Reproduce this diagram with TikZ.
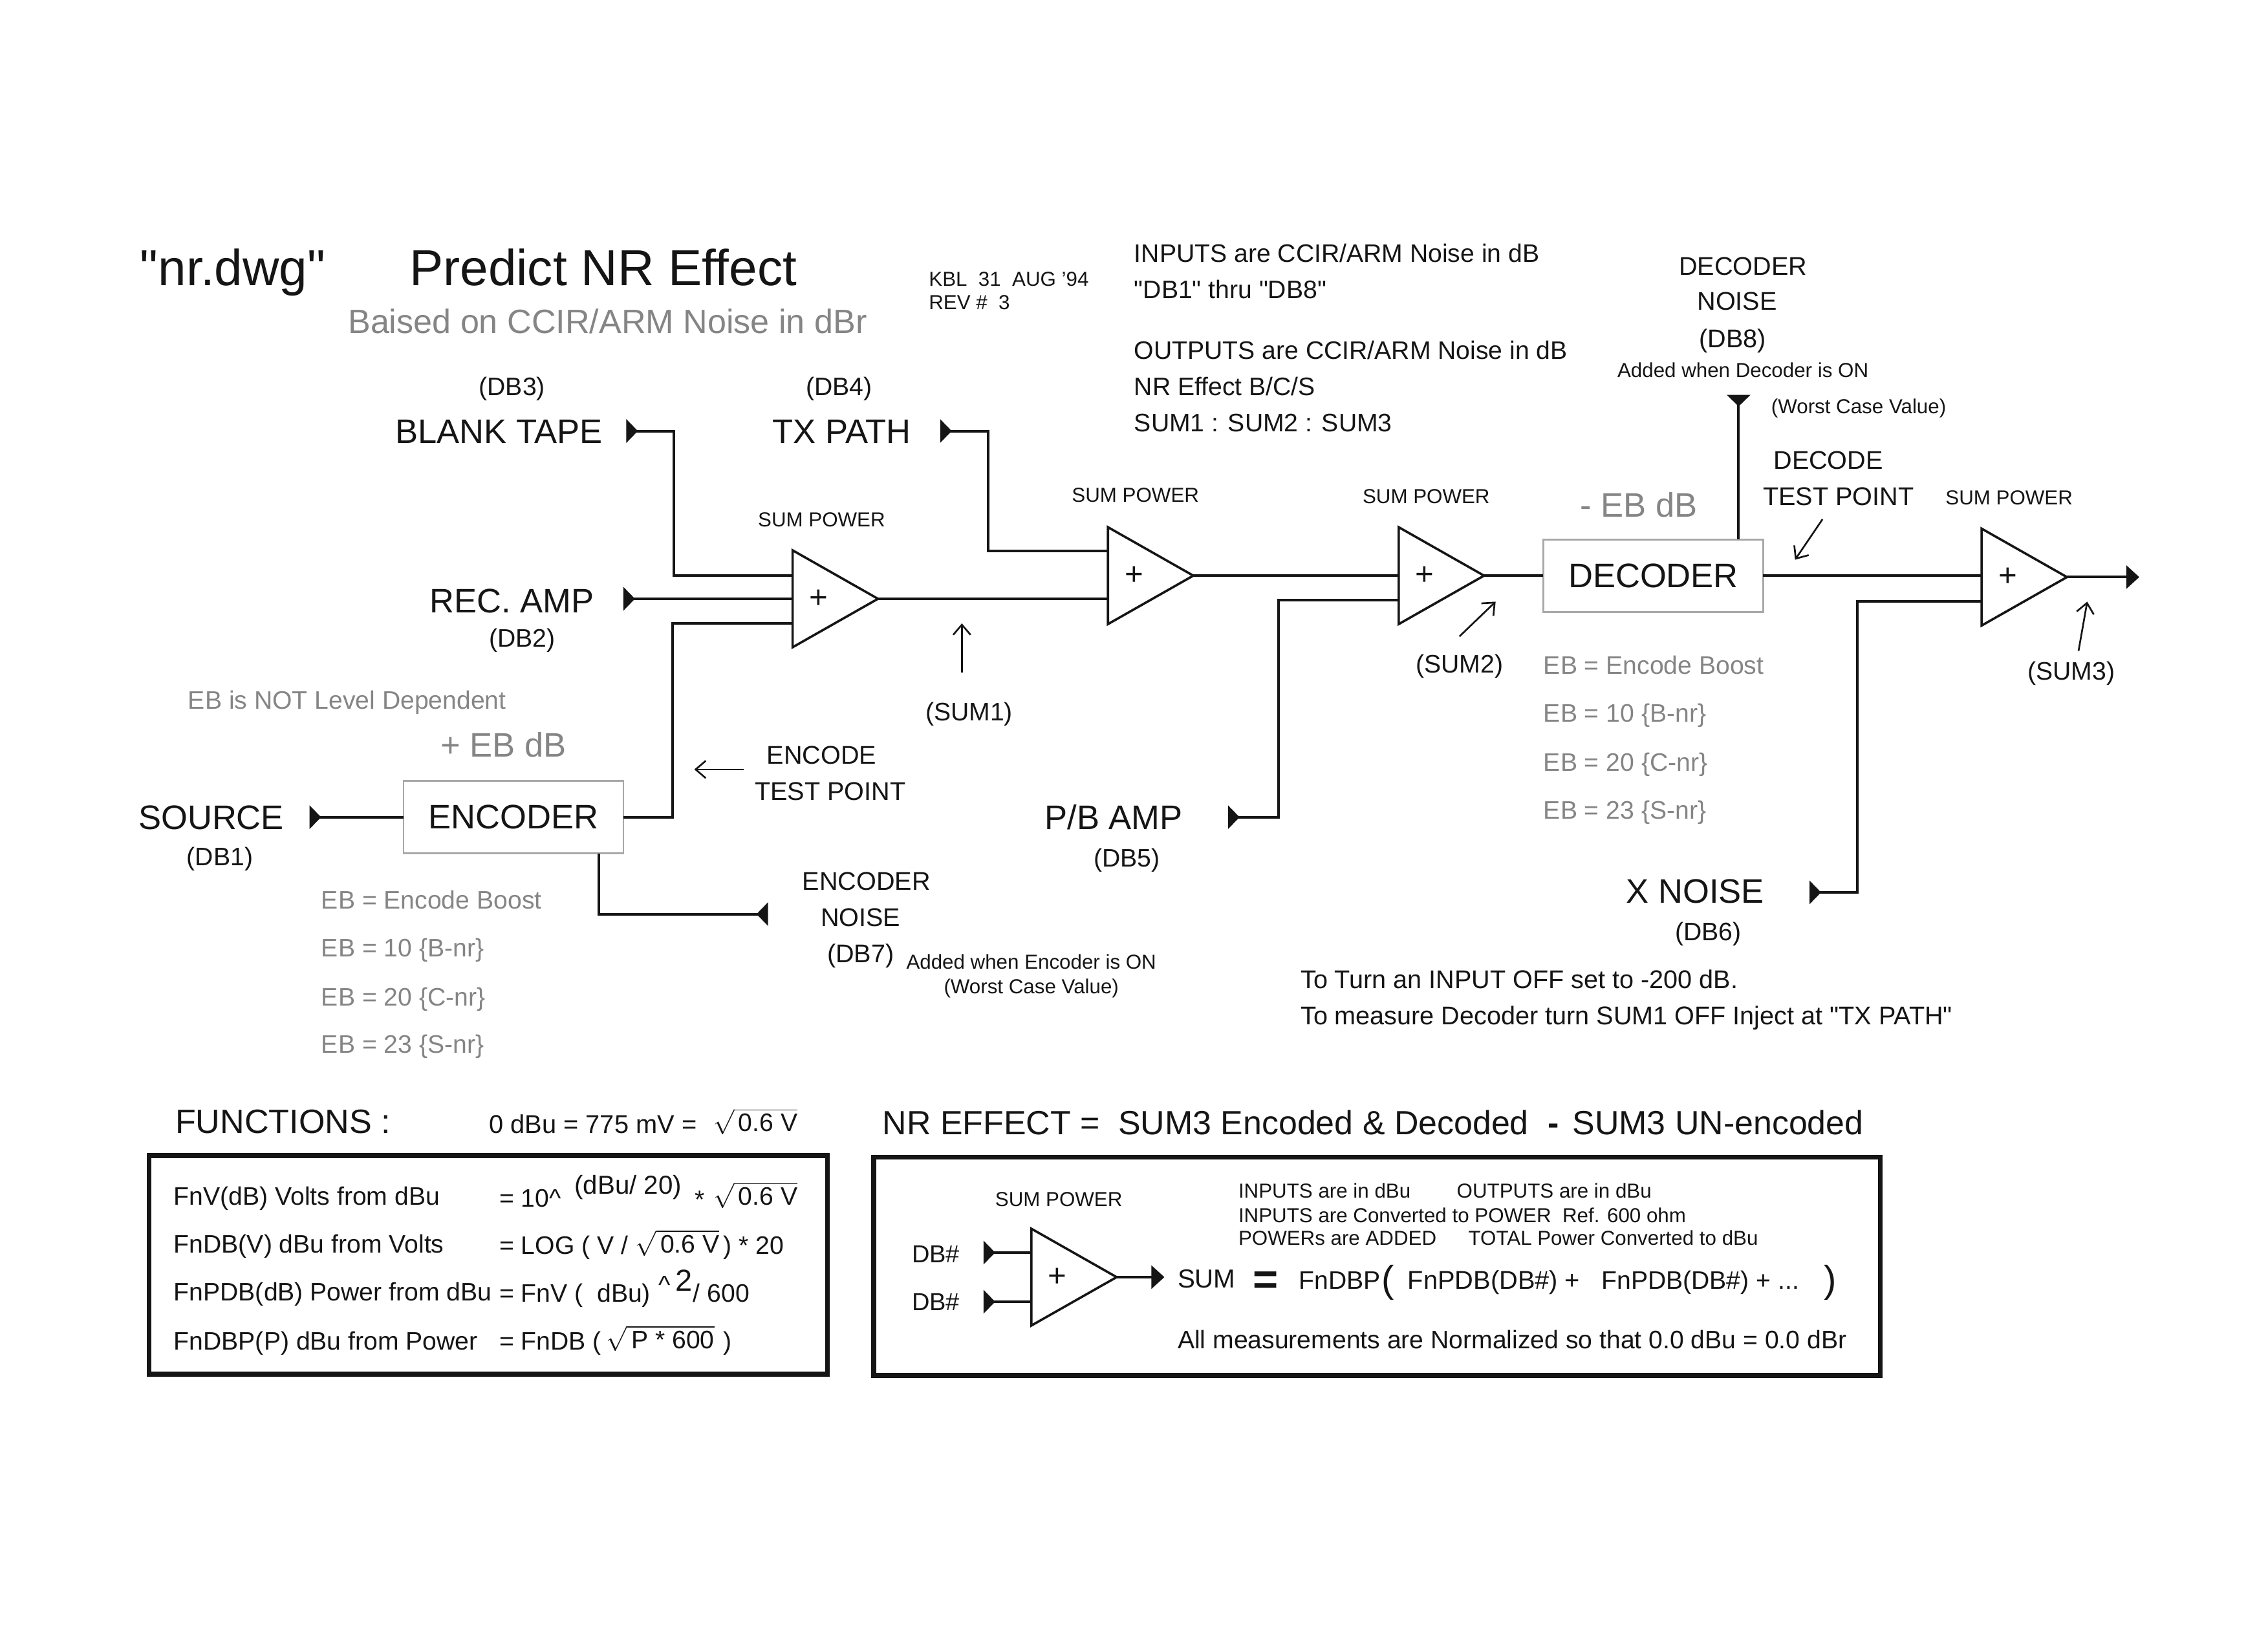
\documentclass[tikz,border=0pt]{standalone}
\usepackage{fontspec}
\setmainfont{Liberation Sans}
\usetikzlibrary{arrows.meta,shapes.geometric}
\definecolor{Ink}{HTML}{151515}
\definecolor{Faded}{HTML}{858585}
\definecolor{Frame}{HTML}{A8A8A8}
\newcommand{\rootof}[1]{$\sqrt{\mbox{\,#1}}$}
\tikzset{
lbl/.style={inner sep=0,text=Ink,font=\fontsize{#1}{#1}\selectfont,text height=.72*#1pt,text depth=0pt},
faded/.style={lbl=#1,text=Faded},
lft/.style={anchor=west},
blockbox/.style={draw=Frame,line width=1.3pt,fill=white,minimum width=152pt,minimum height=50pt,inner sep=0,outer sep=0,text=Ink,font=\fontsize{23.5}{24}\selectfont},
sumamp/.style={isosceles triangle,isosceles triangle stretches,draw=Ink,line width=1.6pt,minimum width=67pt,minimum height=59pt,inner sep=0,outer sep=0,anchor=apex,fill=white,text=Ink,font=\fontsize{22}{22}\selectfont},
wire/.style={draw=Ink,line width=1.8pt},
feed/.style={wire,{Triangle[reversed,length=8pt,width=16pt]}-},
outwire/.style={wire,-{Triangle[length=9pt,width=16pt]}},
pointer/.style={draw=Ink,line width=1.2pt,-{Straight Barb[length=7pt,width=12pt]}},
heavybox/.style={draw=Ink,line width=3.4pt}}
\begin{document}
\begin{tikzpicture}[x=1pt,y=-1pt]
\useasboundingbox[fill=white] (0,0) rectangle (1568,1140);
\node[lbl=35] (file) at (161,185) {\textquotedbl nr.dwg\textquotedbl};
\node[lbl=35] (title) at (417,185) {Predict NR Effect};
\node[faded=23.3] (subtitle) at (420,222) {Baised on CCIR/ARM Noise in dBr};
\node[lbl=14,lft] (kbl) at (642,193) {KBL\ \ 31\ \ AUG '94};
\node[lbl=14,lft] (rev) at (642,209) {REV \#\ \ 3};
\node[lbl=17.5,lft] (ina) at (784,175) {INPUTS are CCIR/ARM Noise in dB};
\node[lbl=17.5,lft] (inb) at (784,200) {\textquotedbl DB1\textquotedbl{} thru \textquotedbl DB8\textquotedbl};
\node[lbl=17.5,lft] (outa) at (784,242) {OUTPUTS are CCIR/ARM Noise in dB};
\node[lbl=17.5,lft] (outb) at (784,267) {NR Effect B/C/S};
\node[lbl=17.5,lft] (outc) at (784,292) {SUM1 : SUM2 : SUM3};
\node[lbl=17.5] (dbthree) at (354,267) {(DB3)};
\node[lbl=23.5] (blank) at (345,298) {BLANK TAPE};
\node[lbl=17.5] (dbfour) at (580,267) {(DB4)};
\node[lbl=23.5] (txpath) at (582,298) {TX PATH};
\node[lbl=23.5] (recamp) at (354,415) {REC. AMP};
\node[lbl=17.5] (dbtwo) at (361,441) {(DB2)};
\node[faded=17.5] (leveldep) at (240,484) {EB is NOT Level Dependent};
\node[faded=23.5] (pluseb) at (348,515) {+ EB dB};
\node[lbl=23.5] (source) at (146,565) {SOURCE};
\node[lbl=17.5] (dbone) at (152,592) {(DB1)};
\node[blockbox] (encoder) at (355,565) {ENCODER};
\node[faded=17.5,lft] (ebe) at (222,622) {EB = Encode Boost};
\node[faded=17.5,lft] (ebb) at (222,655) {EB = 10 \{B-nr\}};
\node[faded=17.5,lft] (ebc) at (222,689) {EB = 20 \{C-nr\}};
\node[faded=17.5,lft] (ebs) at (222,722) {EB = 23 \{S-nr\}};
\node[lbl=17.7] (enctesta) at (568,522) {ENCODE};
\node[lbl=17.7] (enctestb) at (574,547) {TEST POINT};
\node[lbl=17.7] (encnoisea) at (599,609) {ENCODER};
\node[lbl=17.7] (encnoiseb) at (595,634) {NOISE};
\node[lbl=17.7] (dbseven) at (595,659) {(DB7)};
\node[lbl=14] (addeda) at (713,665) {Added when Encoder is ON};
\node[lbl=14] (worsta) at (713,682) {(Worst Case Value)};
\node[sumamp] (sumone) at (607,414) {+};
\node[sumamp] (sumtwo) at (825,398) {+};
\node[sumamp] (sumthree) at (1026,398) {+};
\node[sumamp] (sumfour) at (1429,399) {+};
\node[lbl=14] (powa) at (568,359) {SUM POWER};
\node[lbl=14] (powb) at (785,342) {SUM POWER};
\node[lbl=14] (powc) at (986,343) {SUM POWER};
\node[lbl=14] (powd) at (1389,344) {SUM POWER};
\node[lbl=17.5] (sumonelbl) at (670,492) {(SUM1)};
\node[lbl=17.5] (sumtwolbl) at (1009,459) {(SUM2)};
\node[lbl=17.5] (sumthreelbl) at (1432,464) {(SUM3)};
\node[lbl=23.5] (pbamp) at (770,565) {P/B AMP};
\node[lbl=17.5] (dbfive) at (779,593) {(DB5)};
\node[faded=23.5] (minuseb) at (1133,349) {- EB dB};
\node[blockbox] (decoder) at (1143,398) {DECODER};
\node[faded=17.5,lft] (debe) at (1067,460) {EB = Encode Boost};
\node[faded=17.5,lft] (debb) at (1067,493) {EB = 10 \{B-nr\}};
\node[faded=17.5,lft] (debc) at (1067,527) {EB = 20 \{C-nr\}};
\node[faded=17.5,lft] (debs) at (1067,560) {EB = 23 \{S-nr\}};
\node[lbl=23.5] (xnoise) at (1172,616) {X NOISE};
\node[lbl=17.5] (dbsix) at (1181,644) {(DB6)};
\node[lbl=17.7,lft] (toturn) at (899,677) {To Turn an INPUT OFF set to -200 dB.};
\node[lbl=17.7,lft] (tomeas) at (899,702) {To measure Decoder turn SUM1 OFF Inject at \textquotedbl TX PATH\textquotedbl};
\node[lbl=17.7] (decnoisea) at (1205,184) {DECODER};
\node[lbl=17.7] (decnoiseb) at (1201,208) {NOISE};
\node[lbl=17.7] (dbeight) at (1198,234) {(DB8)};
\node[lbl=14] (addedb) at (1205,256) {Added when Decoder is ON};
\node[lbl=14] (worstb) at (1285,281) {(Worst Case Value)};
\node[lbl=17.7] (dectesta) at (1264,318) {DECODE};
\node[lbl=17.7] (dectestb) at (1271,343) {TEST POINT};
\coordinate (tipblank) at (433,298);
\coordinate (tiprec) at (431,414);
\coordinate (tiptx) at (650,298);
\coordinate (tipsource) at (214,565);
\coordinate (tipnoise) at (531,632);
\coordinate (tippb) at (849,565);
\coordinate (tipx) at (1251,617);
\coordinate (tipdec) at (1202,273);
\coordinate (outfour) at (1479,399);
\draw[feed] (tipblank) -- ++(33,0) |- ([yshift=16pt]sumone.lower side);
\draw[feed] (tiprec) -- (tiprec -| sumone.lower side);
\draw[feed] (tiptx) -- ++(33,0) |- ([yshift=17pt]sumtwo.lower side);
\draw[feed] (tipsource) -- (encoder.west);
\draw[wire] (encoder.east) -- ++(34,0) |- ([yshift=-17pt]sumone.lower side);
\draw[feed] (tipnoise) -| ([xshift=59pt]encoder.south);
\draw[wire] (sumone.apex) -- (sumone.apex -| sumtwo.lower side);
\draw[wire] (sumtwo.apex) -- (sumtwo.apex -| sumthree.lower side);
\draw[feed] (tippb) -- ++(35,0) |- ([yshift=-17pt]sumthree.lower side);
\draw[wire] (sumthree.apex) -- (sumthree.apex -| decoder.west);
\draw[wire] (decoder.east) -- (decoder.east -| sumfour.lower side);
\draw[feed] (tipx) -- ++(33,0) |- ([yshift=-17pt]sumfour.lower side);
\draw[feed] (tipdec) -- (tipdec |- decoder.north);
\draw[outwire] (sumfour.apex) -- (outfour);
\coordinate (pa) at (514,532);
\coordinate (pb) at (480,532);
\coordinate (pc) at (665,465);
\coordinate (pd) at (665,431);
\coordinate (pe) at (1009,440);
\coordinate (pf) at (1034,416);
\coordinate (pg) at (1260,359);
\coordinate (ph) at (1241,387);
\coordinate (pi) at (1437,450);
\coordinate (pj) at (1443,416);
\draw[pointer] (pa) -- (pb);
\draw[pointer] (pc) -- (pd);
\draw[pointer] (pe) -- (pf);
\draw[pointer] (pg) -- (ph);
\draw[pointer] (pi) -- (pj);
\node[lbl=23.3,lft] (functions) at (121,775) {FUNCTIONS :};
\node[lbl=17.8,lft] (zero) at (338,777) {0 dBu = 775 mV =};
\node[lbl=17.5,lft] (zeroroot) at (493,776) {\rootof{0.6 V}};
\draw[heavybox] (103,799) rectangle (572,950);
\node[lbl=17.5,lft] (fna) at (120,827) {FnV(dB) Volts from dBu};
\node[lbl=17.5,lft] (fnb) at (120,860) {FnDB(V) dBu from Volts};
\node[lbl=17.5,lft] (fnc) at (120,893) {FnPDB(dB) Power from dBu};
\node[lbl=17.5,lft] (fnd) at (120,927) {FnDBP(P) dBu from Power};
\node[lbl=17.5,lft] (eqa) at (345,828) {= 10\^{}};
\node[lbl=18,lft] (eqaexp) at (397,819) {(dBu/ 20)};
\node[lbl=17.5,lft] (eqastar) at (480,829) {*};
\node[lbl=17.5,lft] (eqaroot) at (493,827) {\rootof{0.6 V}};
\node[lbl=17.5,lft] (eqb) at (345,861) {= LOG ( V /};
\node[lbl=17.5,lft] (eqbroot) at (439,860) {\rootof{0.6 V}};
\node[lbl=17.5,lft] (eqbend) at (500,861) {) * 20};
\node[lbl=17.5,lft] (eqc) at (345,894) {= FnV (\ \ dBu)};
\node[lbl=17.5,lft] (eqchat) at (455,888) {\^{}};
\node[lbl=21,lft] (eqctwo) at (467,885) {2};
\node[lbl=17.5,lft] (eqcend) at (479,894) {/ 600};
\node[lbl=17.5,lft] (eqd) at (345,927) {= FnDB (};
\node[lbl=17.5,lft] (eqdroot) at (419,926) {\rootof{P * 600}};
\node[lbl=17.5,lft] (eqdend) at (500,927) {)};
\node[lbl=23.2,lft] (nra) at (610,776) {NR EFFECT =};
\node[lbl=23.2,lft] (nrb) at (773,776) {SUM3 Encoded \& Decoded};
\node[lbl=23.2,lft] (nrc) at (1070,776) {\textbf{-}};
\node[lbl=23.2,lft] (nrd) at (1087,776) {SUM3 UN-encoded};
\draw[heavybox] (604,800) rectangle (1300,951);
\node[lbl=14] (powe) at (732,829) {SUM POWER};
\node[lbl=14,lft] (boxa) at (856,823) {INPUTS are in dBu};
\node[lbl=14,lft] (boxb) at (1007,823) {OUTPUTS are in dBu};
\node[lbl=14,lft] (boxc) at (856,840) {INPUTS are Converted to POWER\ \ Ref. 600 ohm};
\node[lbl=14,lft] (boxd) at (856,856) {POWERs are ADDED};
\node[lbl=14,lft] (boxe) at (1015,856) {TOTAL Power Converted to dBu};
\node[lbl=17] (dba) at (647,867) {DB\#};
\node[lbl=17] (dbb) at (647,900) {DB\#};
\node[sumamp] (sumfive) at (772,883) {+};
\coordinate (tipa) at (680,866);
\coordinate (tipb) at (680,900);
\coordinate (outfive) at (805,883);
\draw[feed] (tipa) -- (tipa -| sumfive.lower side);
\draw[feed] (tipb) -- (tipb -| sumfive.lower side);
\draw[outwire] (sumfive.apex) -- (outfive);
\node[lbl=18,lft] (sumlbl) at (814,884) {SUM};
\node[lbl=30,lft] (equals) at (866,884) {\textbf{=}};
\node[lbl=17.5,lft] (fndbp) at (898,885) {FnDBP};
\node[lbl=26,lft] (opena) at (955,884) {(};
\node[lbl=17.8,lft] (terma) at (973,885) {FnPDB(DB\#) +};
\node[lbl=17.5,lft] (termb) at (1107,885) {FnPDB(DB\#) + ...};
\node[lbl=26,lft] (closea) at (1261,884) {)};
\node[lbl=17.5,lft] (normal) at (814,926) {All measurements are Normalized so that 0.0 dBu = 0.0 dBr};
\end{tikzpicture}
\end{document}
